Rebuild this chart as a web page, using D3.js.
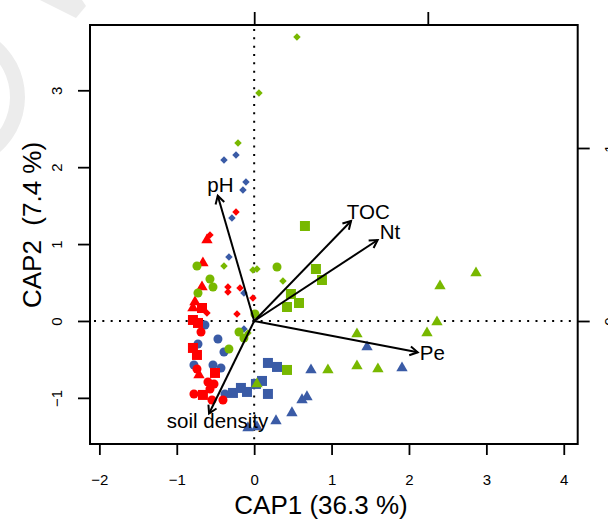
<!DOCTYPE html>
<html>
<head>
<meta charset="utf-8">
<script src="https://cdn.jsdelivr.net/npm/d3@7"></script>
<style>
  body { margin: 0; background: #fff; }
  svg { display: block; }
  text { font-family: "Liberation Sans", Arial, Helvetica, sans-serif; fill: #000; }
</style>
</head>
<body>
<svg id="chart" width="608" height="522"></svg>
<script>
// ---- axis ticks and titles ----
const xTicks = [-2, -1, 0, 1, 2, 3, 4];
const yTicks = [-1, 0, 1, 2, 3];
const arrowTicks = [0, 1];
const xTitle = "CAP1 (36.3 %)";
const yTitle = "CAP2  (7.4 %)";

// ---- environmental vectors (biplot scores) ----
const envNames  = ["pH", "TOC", "Nt", "Pe", "soil density"];
const envX      = [-0.210, 0.558, 0.711, 0.942, -0.260];
const envY      = [ 0.724, 0.578, 0.468, -0.181, -0.535];
const envLabelX = [-0.195, 0.657, 0.782, 1.026, -0.211];
const envLabelY = [ 0.790, 0.631, 0.518, -0.183, -0.578];

// ---- site scores, one array per colour / symbol ----
const blueDiamonds = [[-0.235, 2.159], [-0.390, 2.094], [-0.106, 1.808], [-0.145, 1.704],
  [-0.287, 1.339], [-0.326, 0.832], [-0.132, 0.364], [-0.132, -0.104]];
const blueCircles = [[-0.636, -0.052], [-0.468, -0.234], [-0.726, -0.299], [-0.390, -0.403],
  [-0.778, -0.572], [-0.532, -0.572], [-0.429, -0.611], [-0.377, -0.949]];
const blueSquares = [[0.178, -0.546], [0.295, -0.598], [0.178, -0.949], [-0.274, -0.936],
  [-0.171, -0.871], [-0.093, -0.923], [0.101, -0.780], [0.023, -0.819]];
const blueTriangles = [[1.458, -0.338], [0.734, -0.637], [1.910, -0.611], [0.682, -0.988],
  [0.618, -1.027], [0.488, -1.196], [0.282, -1.300], [-0.080, -1.391], [0.036, -1.378]];

const redDiamonds = [[-0.235, 1.417], [-0.571, 1.118], [-0.339, 0.442], [-0.339, 0.377],
  [-0.183, 0.429], [-0.016, 0.299], [-0.610, 0.104], [-0.222, 0.091]];
const redTriangles = [[-0.610, 1.053], [-0.662, 0.754], [-0.674, 0.442], [-0.765, 0.247],
  [-0.791, 0.169], [-0.713, -0.702]];
const redSquares = [[-0.674, 0.169], [-0.791, 0.013], [-0.726, -0.026], [-0.791, -0.351],
  [-0.739, -0.442], [-0.506, -0.676], [-0.662, -0.962]];
const redCircles = [[-0.687, -0.143], [-0.739, -0.624], [-0.597, -0.793], [-0.519, -0.819],
  [-0.571, -0.884], [-0.778, -0.949], [-0.545, -1.027], [-0.403, -1.027]];

const greenDiamonds = [[0.553, 3.693], [0.062, 2.965], [-0.209, 2.315], [-0.390, 0.715],
  [-0.016, 0.663], [0.036, 0.676], [0.372, 0.520], [-0.080, -0.156]];
const greenCircles = [[-0.739, 0.715], [-0.571, 0.546], [-0.532, 0.442], [-0.726, 0.364],
  [0.295, 0.702], [0.010, 0.091], [-0.196, -0.143], [-0.132, -0.221], [-0.326, -0.364]];
const greenSquares = [[0.656, 1.235], [0.798, 0.676], [0.876, 0.533], [0.475, 0.351],
  [0.579, 0.234], [0.424, 0.182], [0.424, -0.637]];
const greenTriangles = [[2.866, 0.624], [2.401, 0.455], [2.362, -0.013], [2.233, -0.156],
  [1.328, -0.169], [0.953, -0.637], [1.328, -0.585], [1.599, -0.624], [0.036, -0.819]];

const BLUE = "#3a5ba6", RED = "#ff0000", GREEN = "#78b800";

// drawing order: blue, then red, then green on top
const layers = [
  { pts: blueDiamonds, color: BLUE, shape: "diamond" },
  { pts: blueCircles, color: BLUE, shape: "circle" },
  { pts: blueSquares, color: BLUE, shape: "square" },
  { pts: blueTriangles, color: BLUE, shape: "triangle" },
  { pts: redDiamonds, color: RED, shape: "diamond" },
  { pts: redTriangles, color: RED, shape: "triangle" },
  { pts: redSquares, color: RED, shape: "square" },
  { pts: redCircles, color: RED, shape: "circle" },
  { pts: greenDiamonds, color: GREEN, shape: "diamond" },
  { pts: greenCircles, color: GREEN, shape: "circle" },
  { pts: greenSquares, color: GREEN, shape: "square" },
  { pts: greenTriangles, color: GREEN, shape: "triangle" }
];

// ---- layout ----
const box = { left: 90, right: 577.7, top: 25, bottom: 444 };
const svg = d3.select("#chart");

// faint background mark in the top-left corner
const wm = svg.append("g").attr("fill", "#ececec").attr("stroke", "none");
wm.append("path")
  .attr("d", d3.arc()({ innerRadius: 58, outerRadius: 73, startAngle: 0.6, endAngle: 2.55 }))
  .attr("transform", "translate(-48,97)");
wm.append("polygon")
  .attr("points", "40,0 76,18 86,6 82,0");

const x = d3.scaleLinear().domain([-2.121, 4.18]).range([box.left, box.right]);
const y = d3.scaleLinear().domain([-1.60, 3.849]).range([box.bottom, box.top]);
// scales for the environmental arrows (secondary axes, top and right)
const xa = d3.scaleLinear().domain([-0.9459, 1.8635]).range([box.left, box.right]);
const ya = d3.scaleLinear().domain([-0.711, 1.711]).range([box.bottom, box.top]);

const fmt = d => (d < 0 ? "\u2212" + Math.abs(d) : String(d));

// bottom axis
const gx = svg.append("g").attr("transform", `translate(0,${box.bottom})`)
  .call(d3.axisBottom(x).tickValues(xTicks).tickSize(11).tickFormat(fmt));
gx.selectAll("text").attr("y", 41).attr("dy", 0).style("font-size", "15px");

// left axis, labels rotated
const gy = svg.append("g").attr("transform", `translate(${box.left},0)`)
  .call(d3.axisLeft(y).tickValues(yTicks).tickSize(12).tickFormat(fmt));
gy.selectAll("text")
  .attr("x", 0).attr("y", -28).attr("dy", 0)
  .attr("transform", "rotate(-90)")
  .attr("text-anchor", "middle")
  .style("font-size", "15px");

// top axis for arrow scale (its labels sit beyond the page edge)
const gt = svg.append("g").attr("transform", `translate(0,${box.top})`)
  .call(d3.axisTop(xa).tickValues(arrowTicks).tickSize(13).tickFormat(""));

// right axis for arrow scale
const gr = svg.append("g").attr("transform", `translate(${box.right},0)`)
  .call(d3.axisRight(ya).tickValues(arrowTicks).tickSize(12).tickFormat(fmt));
gr.selectAll("text")
  .attr("x", 0).attr("y", 37).attr("dy", 0)
  .attr("transform", "rotate(-90)")
  .attr("text-anchor", "middle")
  .style("font-size", "15px");

[gx, gy, gt, gr].forEach(g => {
  g.select(".domain").remove();
  g.selectAll("line").attr("stroke", "#000").attr("stroke-width", 1.8);
  g.selectAll("text").attr("fill", "#000").style("font-family", '"Liberation Sans", Arial, sans-serif');
});

// plot frame
svg.append("rect")
  .attr("x", box.left).attr("y", box.top)
  .attr("width", box.right - box.left).attr("height", box.bottom - box.top)
  .attr("fill", "none").attr("stroke", "#000").attr("stroke-width", 2);

// dotted zero lines
svg.append("line")
  .attr("x1", x(0)).attr("x2", x(0)).attr("y1", box.top + 4).attr("y2", box.bottom)
  .attr("stroke", "#000").attr("stroke-width", 2).attr("stroke-dasharray", "2,6.33");
svg.append("line")
  .attr("x1", box.left + 4).attr("x2", box.right).attr("y1", y(0)).attr("y2", y(0))
  .attr("stroke", "#000").attr("stroke-width", 2).attr("stroke-dasharray", "2,6.33");

// site points
const symbolPath = {
  circle: d3.symbol().type(d3.symbolCircle).size(64)(),
  square: d3.symbol().type(d3.symbolSquare).size(100)(),
  triangle: d3.symbol().type(d3.symbolTriangle).size(56)(),
  diamond: d3.symbol().type(d3.symbolSquare).size(28)()
};
const pts = svg.append("g");
layers.forEach(layer => {
  pts.selectAll(null)
    .data(layer.pts)
    .enter().append("path")
    .attr("d", symbolPath[layer.shape])
    .attr("transform", d => `translate(${x(d[0])},${y(d[1])})` + (layer.shape === "diamond" ? " rotate(45)" : ""))
    .attr("fill", layer.color);
});

// environmental arrows
const ox = xa(0), oy = ya(0);
const arrows = svg.append("g").attr("stroke", "#000").attr("stroke-width", 2).attr("fill", "none");
envNames.forEach((name, i) => {
  const tx = xa(envX[i]), ty = ya(envY[i]);
  const ang = Math.atan2(ty - oy, tx - ox);
  const L = 9, spread = Math.PI / 6;
  arrows.append("line").attr("x1", ox).attr("y1", oy).attr("x2", tx).attr("y2", ty);
  arrows.append("path").attr("d",
    `M${tx - L * Math.cos(ang - spread)},${ty - L * Math.sin(ang - spread)}` +
    `L${tx},${ty}` +
    `L${tx - L * Math.cos(ang + spread)},${ty - L * Math.sin(ang + spread)}`);
  svg.append("text")
    .attr("x", xa(envLabelX[i])).attr("y", ya(envLabelY[i]))
    .attr("dy", "0.36em")
    .attr("text-anchor", "middle")
    .style("font-size", "20.5px")
    .text(name);
});

// axis titles
svg.append("text")
  .attr("x", 321).attr("y", 514)
  .attr("text-anchor", "middle")
  .style("font-size", "26px")
  .text(xTitle);
svg.append("text")
  .attr("transform", "translate(41,225) rotate(-90)")
  .attr("text-anchor", "middle")
  .style("font-size", "26px")
  .style("white-space", "pre")
  .text(yTitle);
</script>
</body>
</html>
